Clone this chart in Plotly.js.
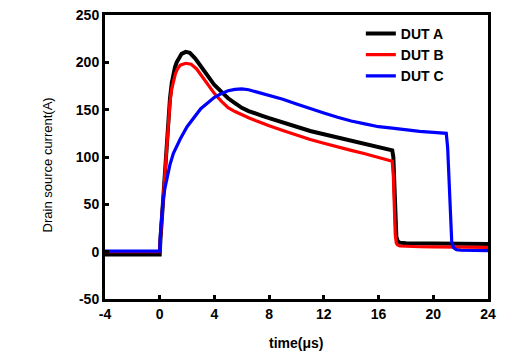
<!DOCTYPE html>
<html>
<head>
<meta charset="utf-8">
<script src="https://cdn.plot.ly/plotly-3.0.1.min.js"></script>
<style>
html,body{margin:0;padding:0;background:#fff;}
#chart{width:525px;height:360px;}
</style>
</head>
<body>
<div id="chart"></div>
<script>
// DUT A (black)
var tA = [-4, -3, -2, -1, 0, 0.05, 0.15, 0.26, 0.38, 0.5, 0.62, 0.75, 0.88, 1.0, 1.12, 1.24, 1.4, 1.6, 1.9, 2.2, 2.6, 3.0, 3.5, 4.0, 4.5, 5.0, 5.5, 6.0, 6.5, 7.0, 7.5, 8.0, 9.0, 10.0, 11.0, 12.0, 13.0, 14.0, 15.0, 16.0, 17.0, 17.08, 17.15, 17.22, 17.3, 17.4, 17.55, 18, 19, 20, 21, 22, 23, 24];
var iA = [-3, -3, -3, -3, -3, 12, 35, 58, 85, 111, 138, 162, 178, 188, 195, 200, 205, 209, 211, 210, 204, 196, 186, 176, 169, 162, 157, 152, 148.5, 145.5, 143.5, 141, 136.5, 131.5, 127.5, 124, 120.5, 117, 114, 110.5, 107, 100, 70, 35, 16, 11, 9.5, 8.8, 8.5, 8.3, 8.2, 8, 8, 8];
// DUT B (red)
var tB = [-4, -3, -2, -1, 0, 0.05, 0.15, 0.26, 0.38, 0.5, 0.62, 0.75, 0.88, 1.0, 1.15, 1.3, 1.5, 1.9, 2.3, 2.7, 3.0, 3.5, 4.0, 4.5, 5.0, 5.5, 6.0, 6.5, 7.0, 7.5, 8.0, 9.0, 10.0, 11.0, 12.0, 13.0, 14.0, 15.0, 16.0, 17.0, 17.08, 17.15, 17.22, 17.3, 17.4, 17.55, 18, 19, 20, 21, 22, 23, 24];
var iB = [0, 0, 0, 0, 0, 14, 36, 58, 85, 111, 137, 158, 172, 181, 188, 193, 197, 199, 198, 193, 187, 177, 167, 159, 152, 148, 144.5, 141.5, 138.5, 135.5, 133, 128, 123, 118.5, 114.5, 110.5, 107, 103.5, 99.5, 95.5, 80, 45, 18, 9, 7, 6, 5.5, 5.2, 5, 4.8, 4.6, 4.5, 4.5];
// DUT C (blue)
var tC = [-4, -3, -2, -1, 0, 0.05, 0.12, 0.25, 0.38, 0.5, 0.75, 1.0, 1.25, 1.5, 2.0, 2.5, 3.0, 3.5, 4.0, 4.5, 5.0, 5.5, 6.0, 6.5, 7.0, 8.0, 9.0, 10.0, 11.0, 12.0, 13.0, 14.0, 15.0, 16.0, 17.0, 18.0, 19.0, 20.0, 20.95, 21.05, 21.15, 21.25, 21.35, 21.5, 21.7, 22, 23, 24];
var iC = [0.5, 0.5, 0.5, 0.5, 0.5, 18, 36, 55, 67, 76, 92, 104, 112, 119, 132, 142, 151, 157, 163, 167, 170, 171.5, 172, 171, 169, 165, 161, 156, 151, 146.5, 142, 138, 135, 132, 130.5, 128.5, 127, 126, 125, 110, 70, 30, 10, 4, 2, 1.5, 1, 1];

var xTicks = [-4, 0, 4, 8, 12, 16, 20, 24];
var yTicks = [-50, 0, 50, 100, 150, 200, 250];
var names = ["DUT A", "DUT B", "DUT C"];
var xTitle = "time(μs)";
var yTitle = "Drain source current(A)";

var traces = [
  {x: tA, y: iA, name: names[0], mode: "lines", line: {color: "#000000", width: 4}},
  {x: tB, y: iB, name: names[1], mode: "lines", line: {color: "#ff0000", width: 3.2}},
  {x: tC, y: iC, name: names[2], mode: "lines", line: {color: "#0000ff", width: 3.2}}
];

var FF = "Liberation Sans, Arial, sans-serif";
var tickFont = {family: FF, size: 14, color: "#000", weight: "bold"};

var layout = {
  width: 525, height: 360,
  margin: {l: 105, r: 37, t: 15, b: 61},
  paper_bgcolor: "#fff", plot_bgcolor: "#fff",
  showlegend: true,
  legend: {
    x: 0.668, y: 0.99, xanchor: "left", yanchor: "top",
    bgcolor: "rgba(0,0,0,0)",
    font: {family: FF, size: 14, color: "#000", weight: "bold"},
    tracegroupgap: 0, itemwidth: 30
  },
  xaxis: {
    range: [-4, 24], tickmode: "array", tickvals: xTicks, ticktext: xTicks.map(String),
    showgrid: false, zeroline: false,
    showline: true, linecolor: "#000", linewidth: 3, mirror: true,
    ticks: "inside", ticklen: 4, tickwidth: 3, tickcolor: "#000",
    tickfont: tickFont
  },
  yaxis: {
    range: [-50, 250], tickmode: "array", tickvals: yTicks, ticktext: yTicks.map(String),
    showgrid: false, zeroline: false,
    showline: true, linecolor: "#000", linewidth: 3, mirror: true,
    ticks: "inside", ticklen: 4, tickwidth: 3, tickcolor: "#000",
    tickfont: tickFont
  },
  annotations: [
    {text: xTitle, xref: "paper", yref: "paper", x: 0.4987, y: -0.155, xanchor: "center", yanchor: "middle",
     showarrow: false, font: {family: FF, size: 14, color: "#000", weight: "bold"}},
    {text: yTitle, xref: "paper", yref: "paper", x: -0.149, y: 0.4736, xanchor: "center", yanchor: "middle",
     textangle: -90, showarrow: false, font: {family: FF, size: 13, color: "#000"}}
  ]
};

Plotly.newPlot("chart", traces, layout, {displayModeBar: false, staticPlot: true});
</script>
</body>
</html>
